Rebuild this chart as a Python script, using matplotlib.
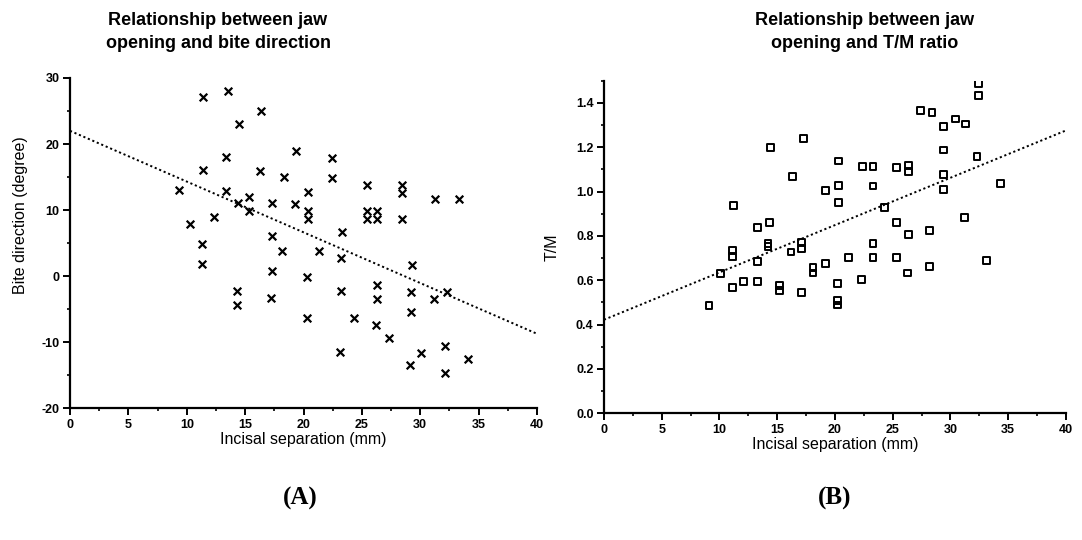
import matplotlib
matplotlib.use("Agg")
import matplotlib.pyplot as plt
from matplotlib.ticker import MultipleLocator

plt.rcParams['font.family'] = ['Liberation Sans', 'DejaVu Sans']
plt.rcParams['axes.unicode_minus'] = False

# panel A : incisal separation vs bite direction
sep_a = [11.4, 13.5, 16.4, 14.5, 13.4, 11.4, 16.3, 9.3, 13.4, 15.3, 14.4, 15.3,
         17.3, 10.3, 12.3, 17.3, 19.4, 22.4, 18.3, 22.4, 20.4, 25.4, 28.4, 28.4,
         31.3, 33.3, 19.3, 20.4, 20.4, 25.4, 25.4, 26.3, 26.3, 28.4, 23.3, 11.3,
         11.3, 14.3, 14.3, 17.3, 17.2, 18.2, 21.3, 23.2, 20.3, 29.3, 26.3, 23.2,
         26.3, 29.2, 31.2, 32.3, 20.3, 24.3, 29.2, 26.2, 27.3, 32.1, 30.1, 23.1,
         34.1, 29.1, 32.1]
bite = [27.1, 28.1, 25.0, 23.1, 18.0, 16.0, 15.9, 13.0, 12.9, 12.0, 11.0, 9.8,
        11.0, 7.9, 9.0, 6.1, 18.9, 17.9, 15.0, 14.9, 12.8, 13.8, 13.8, 12.6,
        11.7, 11.7, 10.9, 9.8, 8.7, 9.8, 8.7, 9.8, 8.7, 8.7, 6.7, 4.8,
        1.9, -2.2, -4.3, 0.8, -3.3, 3.8, 3.8, 2.7, -0.2, 1.7, -1.4, -2.3,
        -3.4, -2.4, -3.4, -2.4, -6.3, -6.4, -5.4, -7.4, -9.4, -10.5, -11.6, -11.5,
        -12.6, -13.5, -14.6]
fit_a = (22.0, -0.768)   # intercept, slope

# panel B : incisal separation vs T/M ratio
sep_b = [17.3, 14.4, 16.3, 19.2, 11.2, 14.3, 13.3, 32.4, 32.4, 27.4, 28.4, 30.4,
         31.3, 29.4, 29.4, 32.3, 20.3, 22.4, 23.3, 25.3, 26.4, 26.4, 29.4, 29.4,
         34.3, 20.3, 23.3, 20.3, 24.3, 25.3, 31.2, 28.2, 26.4, 11.1, 11.1, 14.2,
         14.2, 17.1, 17.1, 16.2, 13.3, 10.1, 11.1, 12.1, 13.3, 15.2, 15.2, 17.1,
         18.1, 18.1, 19.2, 9.1, 23.3, 21.2, 23.3, 25.3, 28.2, 26.3, 33.1, 20.2,
         22.3, 20.2, 20.2]
tm = [1.240, 1.199, 1.068, 1.006, 0.938, 0.860, 0.837, 1.489, 1.433, 1.365, 1.357, 1.327,
      1.305, 1.294, 1.187, 1.158, 1.138, 1.113, 1.113, 1.109, 1.119, 1.089, 1.078, 1.010,
      1.038, 1.029, 1.025, 0.950, 0.928, 0.862, 0.882, 0.825, 0.807, 0.736, 0.706, 0.766,
      0.754, 0.769, 0.742, 0.727, 0.686, 0.629, 0.566, 0.595, 0.595, 0.576, 0.553, 0.543,
      0.656, 0.633, 0.674, 0.486, 0.766, 0.704, 0.704, 0.701, 0.663, 0.633, 0.690, 0.584,
      0.603, 0.508, 0.488]
fit_b = (0.422, 0.02134)

fig = plt.figure(figsize=(10.82, 5.4), dpi=100)
axA = fig.add_axes([0.0647, 0.2439, 0.4316, 0.6117])
axB = fig.add_axes([0.5582, 0.2346, 0.4270, 0.6160])


def style_axes(ax):
    for s in ['top', 'right']:
        ax.spines[s].set_visible(False)
    for s in ['left', 'bottom']:
        ax.spines[s].set_linewidth(1.6)
    ax.tick_params(which='major', direction='out', length=5, width=1.4, labelsize=9, pad=2.5)
    ax.tick_params(which='minor', direction='out', length=2.5, width=1.2)
    for lab in ax.get_xticklabels() + ax.get_yticklabels():
        lab.set_fontweight('bold')
    ax.set_xlim(0, 40)
    ax.xaxis.set_major_locator(MultipleLocator(5))
    ax.xaxis.set_minor_locator(MultipleLocator(2.5))
    ax.set_xlabel('Incisal separation (mm)', fontsize=11.5, labelpad=1)


# --- A ---
axA.scatter(sep_a, bite, marker='x', s=30, c='black', linewidths=1.6)
axA.plot([0, 40], [fit_a[0], fit_a[0] + 40 * fit_a[1]], ls=(0, (1.1, 1.4)), color='black', lw=1.4)
axA.set_ylim(-20, 30)
axA.yaxis.set_major_locator(MultipleLocator(10))
axA.yaxis.set_minor_locator(MultipleLocator(5))
style_axes(axA)
fig.text(0.019, 1 - 215 / 540, 'Bite direction (degree)', rotation=90, fontsize=11.5,
         ha='center', va='center')

# --- B ---
axB.scatter(sep_b, tm, marker='s', s=24, facecolors='none', edgecolors='black', linewidths=1.4)
axB.plot([0, 40], [fit_b[0], fit_b[0] + 40 * fit_b[1]], ls=(0, (1.1, 1.4)), color='black', lw=1.4)
axB.set_ylim(0, 1.5)
axB.yaxis.set_major_locator(MultipleLocator(0.2))
axB.yaxis.set_minor_locator(MultipleLocator(0.1))
axB.yaxis.set_major_formatter(plt.FormatStrFormatter('%.1f'))
style_axes(axB)
axB.set_ylabel('T/M', fontsize=11.5, labelpad=12)

# titles and panel letters
fig.text(218 / 1082, 1 - 32 / 540, 'Relationship between jaw\nopening and bite direction',
         ha='center', va='center', fontsize=13, fontweight='bold', linespacing=1.4)
fig.text(865 / 1082, 1 - 32 / 540, 'Relationship between jaw\nopening and T/M ratio',
         ha='center', va='center', fontsize=13, fontweight='bold', linespacing=1.4)
fig.text(300 / 1082, 1 - 498 / 540, '(A)', ha='center', va='center', fontsize=18,
         fontweight='bold', family='Liberation Serif')
fig.text(835 / 1082, 1 - 498 / 540, '(B)', ha='center', va='center', fontsize=18,
         fontweight='bold', family='Liberation Serif')

fig.savefig('out.png', dpi=100)
